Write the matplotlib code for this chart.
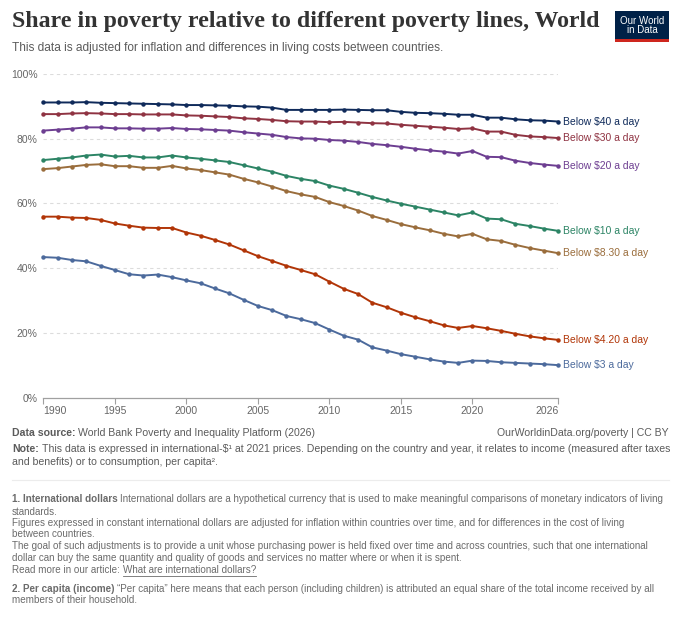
import matplotlib
matplotlib.use("Agg")
import matplotlib.pyplot as plt
from matplotlib.patches import Rectangle

years = list(range(1990, 2027))

below_40 = [91.2, 91.2, 91.2, 91.3, 91.1, 91.0, 90.9, 90.8, 90.7, 90.6, 90.4, 90.4, 90.3, 90.2, 90.0, 89.9,
            89.6, 88.9, 88.9, 88.9, 88.9, 89.0, 88.9, 88.8, 88.8, 88.3, 88.0, 87.9, 87.7, 87.4, 87.4, 86.5,
            86.5, 86.0, 85.7, 85.6, 85.3]
below_30 = [87.6, 87.6, 87.8, 87.9, 87.8, 87.6, 87.6, 87.5, 87.5, 87.5, 87.2, 87.1, 86.9, 86.7, 86.3, 86.1,
            85.8, 85.4, 85.3, 85.3, 85.1, 85.2, 85.0, 84.8, 84.7, 84.3, 84.0, 83.7, 83.4, 83.0, 83.2, 82.2,
            82.2, 81.2, 80.7, 80.5, 80.2]
below_20 = [82.5, 82.8, 83.1, 83.5, 83.5, 83.2, 83.2, 83.1, 83.1, 83.3, 83.0, 82.9, 82.7, 82.5, 82.0, 81.6,
            81.2, 80.5, 80.1, 80.0, 79.6, 79.4, 79.0, 78.4, 78.0, 77.5, 76.9, 76.4, 76.0, 75.4, 76.2, 74.4,
            74.3, 73.2, 72.5, 72.0, 71.6]
below_10 = [73.4, 73.8, 74.2, 74.8, 75.1, 74.5, 74.7, 74.2, 74.2, 74.8, 74.2, 73.8, 73.3, 72.8, 71.8, 70.8,
            69.8, 68.5, 67.6, 66.9, 65.5, 64.5, 63.3, 62.0, 60.9, 59.9, 59.0, 58.1, 57.2, 56.3, 57.2, 55.3,
            55.1, 53.7, 53.0, 52.2, 51.5]
below_830 = [70.6, 70.9, 71.4, 71.9, 72.1, 71.5, 71.5, 71.0, 71.0, 71.6, 70.8, 70.3, 69.6, 68.9, 67.6, 66.5,
             65.2, 63.8, 62.8, 62.0, 60.4, 59.2, 57.8, 56.1, 54.9, 53.6, 52.6, 51.7, 50.6, 49.8, 50.6, 48.9,
             48.4, 47.2, 46.2, 45.4, 44.6]
below_420 = [55.9, 55.9, 55.6, 55.5, 54.9, 53.8, 53.1, 52.5, 52.4, 52.4, 51.0, 50.0, 48.7, 47.3, 45.5, 43.7,
             42.2, 40.7, 39.4, 38.1, 35.8, 33.6, 32.0, 29.3, 27.9, 26.2, 24.8, 23.6, 22.3, 21.5, 22.1, 21.4,
             20.6, 19.7, 18.9, 18.3, 17.8]
below_3 = [43.4, 43.2, 42.5, 42.1, 40.7, 39.4, 38.1, 37.7, 38.0, 37.2, 36.2, 35.3, 33.7, 32.2, 30.2, 28.3,
           27.0, 25.2, 24.2, 23.0, 21.0, 19.1, 17.9, 15.5, 14.5, 13.4, 12.6, 11.8, 11.1, 10.7, 11.4, 11.3,
           10.9, 10.7, 10.5, 10.3, 10.0]

series_names = ["Below $40 a day", "Below $30 a day", "Below $20 a day", "Below $10 a day",
                "Below $8.30 a day", "Below $4.20 a day", "Below $3 a day"]
series_values = [below_40, below_30, below_20, below_10, below_830, below_420, below_3]
series_colors = ["#0f2a5a", "#8f3342", "#6d3e91", "#2c8465", "#9a6d3c", "#b13507", "#4c6a9c"]

x_ticks = [1990, 1995, 2000, 2005, 2010, 2015, 2020, 2026]
y_ticks = [0, 20, 40, 60, 80, 100]
y_tick_labels = ["0%", "20%", "40%", "60%", "80%", "100%"]

W, H = 680, 619
plt.rcParams['font.family'] = ['Liberation Sans', 'DejaVu Sans']
fig = plt.figure(figsize=(W / 100, H / 100), dpi=100)
renderer = fig.canvas.get_renderer()


def fx(px):
    return px / W


def fy(py):
    return 1 - py / H


ax_l, ax_r, ax_t, ax_b = 43.3, 558.3, 74.0, 397.5
ax = fig.add_axes([fx(ax_l), fy(ax_b), fx(ax_r) - fx(ax_l), fy(ax_t) - fy(ax_b)])
ax.set_xlim(1990, 2026)
ax.set_ylim(0, 100)

for v in y_ticks[1:]:
    ax.axhline(v, color="#dcdcdc", lw=0.8, ls=(0, (3, 3)), zorder=0)

for name, vals, col in zip(series_names, series_values, series_colors):
    ax.plot(years, vals, color=col, lw=1.4, marker="o", markersize=2.2, clip_on=False, zorder=3)
    ax.text(2026.3, vals[-1], name, color=col, fontsize=7.45, va="center", ha="left", clip_on=False)

for s in ["top", "right", "left"]:
    ax.spines[s].set_visible(False)
ax.spines["bottom"].set_color("#a0a0a0")
ax.spines["bottom"].set_linewidth(0.9)

ax.set_yticks(y_ticks)
ax.set_yticklabels(y_tick_labels)
ax.tick_params(axis="y", length=0, pad=4, labelsize=7.5, labelcolor="#666666")
ax.set_xticks(x_ticks)
ax.set_xticklabels([str(t) for t in x_ticks])
ax.tick_params(axis="x", length=4, width=0.8, color="#a0a0a0", pad=2, labelsize=7.5, labelcolor="#666666")
xl = ax.get_xticklabels()
xl[0].set_ha("left")
xl[-1].set_ha("right")

# Title and subtitle
fig.text(fx(12), fy(22), "Share in poverty relative to different poverty lines, World",
         fontsize=17.2, fontweight="bold", family="Liberation Serif", color="#333333", va="center", ha="left")
fig.text(fx(12), fy(48), "This data is adjusted for inflation and differences in living costs between countries.",
         fontsize=8.55, color="#5b5b5b", va="center", ha="left")

# Logo
lx0, ly0, lx1, ly1 = 615, 11, 669, 42
fig.patches.append(Rectangle((fx(lx0), fy(ly1)), fx(lx1) - fx(lx0), fy(ly0) - fy(ly1),
                             transform=fig.transFigure, facecolor="#002147", edgecolor="none"))
fig.patches.append(Rectangle((fx(lx0), fy(ly1)), fx(lx1) - fx(lx0), fy(ly1 - 2.5) - fy(ly1),
                             transform=fig.transFigure, facecolor="#ce261e", edgecolor="none"))
fig.text(fx(642), fy(25.5), "Our World\nin Data", color="white", fontsize=7.0, ha="center", va="center",
         linespacing=0.95)

gray = "#5b5b5b"
fgray = "#6b6b6b"
fs_src = 7.55
fs_note = 7.55
fsz = 7.15


def rich_line(y, bold, rest, size, color, gap=3):
    tb = fig.text(fx(12), fy(y), bold, fontsize=size, color=color, fontweight="bold", va="center", ha="left")
    bb = tb.get_window_extent(renderer=renderer)
    fig.text(fx(12) + bb.width / W + fx(gap), fy(y), rest, fontsize=size, color=color, va="center", ha="left")


rich_line(432.7, "Data source:", "World Bank Poverty and Inequality Platform (2026)", fs_src, gray)
fig.text(fx(669), fy(432.7), "OurWorldinData.org/poverty | CC BY", fontsize=fs_src, color=gray,
         va="center", ha="right")
rich_line(449, "Note:", "This data is expressed in international-$¹ at 2021 prices. Depending on the country and year, it relates to income (measured after taxes", fs_note, gray)
fig.text(fx(12), fy(462), "and benefits) or to consumption, per capita².", fontsize=fs_note, color=gray,
         va="center", ha="left")

fig.add_artist(plt.Line2D([fx(12), fx(669)], [fy(480), fy(480)], transform=fig.transFigure,
                          color="#ececec", lw=0.8))

rich_line(498.7, "1. International dollars", "International dollars are a hypothetical currency that is used to make meaningful comparisons of monetary indicators of living", fsz, fgray, gap=2.5)
lines = [
    (511.7, "standards."),
    (523.3, "Figures expressed in constant international dollars are adjusted for inflation within countries over time, and for differences in the cost of living"),
    (534.3, "between countries."),
    (546.3, "The goal of such adjustments is to provide a unit whose purchasing power is held fixed over time and across countries, such that one international"),
    (558.3, "dollar can buy the same quantity and quality of goods and services no matter where or when it is spent."),
]
for yy, txt in lines:
    fig.text(fx(12), fy(yy), txt, fontsize=fsz, color=fgray, va="center", ha="left")

tr = fig.text(fx(12), fy(570.3), "Read more in our article: ", fontsize=fsz, color=fgray, va="center", ha="left")
bb = tr.get_window_extent(renderer=renderer)
tl = fig.text(fx(12) + bb.width / W, fy(570.3), "What are international dollars?", fontsize=fsz, color=fgray,
              va="center", ha="left")
bb2 = tl.get_window_extent(renderer=renderer)
fig.add_artist(plt.Line2D([bb2.x0 / W, bb2.x1 / W], [fy(575.5), fy(575.5)], transform=fig.transFigure,
                          color=fgray, lw=0.6))

rich_line(588.7, "2. Per capita (income)", "“Per capita” here means that each person (including children) is attributed an equal share of the total income received by all", fsz, fgray, gap=2.5)
fig.text(fx(12), fy(600), "members of their household.", fontsize=fsz, color=fgray, va="center", ha="left")

fig.savefig("out.png", dpi=100, facecolor="white")
